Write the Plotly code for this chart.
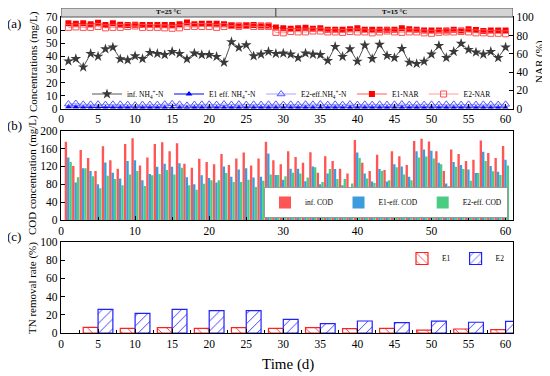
import plotly.graph_objects as go

# ---------------- data ----------------
days = list(range(1, 61))

inf_nh4 = [36.4, 38.2, 31.8, 42.1, 40.0, 45.7, 47.0, 38.0, 37.2, 40.3, 38.2, 42.9, 42.1, 41.3, 43.7,
           42.1, 38.0, 42.4, 41.3, 41.3, 39.8, 35.4, 51.2, 46.8, 48.8, 40.3, 41.6, 43.7, 42.1,
           42.4, 41.6, 39.0, 42.4, 41.6, 41.3, 36.7, 47.5, 39.8, 45.7, 36.2, 48.6, 38.2, 49.1, 40.6,
           39.0, 46.0, 35.4, 34.4, 36.2, 41.6, 48.3, 39.0, 43.7, 49.9, 45.2, 43.2, 41.6, 43.7, 39.0, 47.0]
e1_eff_nh4 = [1.1, 1.0, 0.6, 0.5, 0.6, 0.5, 0.5, 0.6, 0.5, 0.5, 0.5, 0.6, 0.5, 0.5, 0.5,
              0.5, 0.5, 0.6, 0.5, 0.5, 0.5, 0.5, 0.5, 0.6, 0.5, 0.5, 0.5, 0.5, 0.5,
              0.5, 0.5, 0.5, 0.6, 0.5, 0.5, 0.5, 0.5, 0.5, 0.5, 0.5, 0.6, 0.5, 0.5, 0.5,
              0.5, 0.5, 0.5, 0.5, 0.5, 0.5, 0.5, 0.5, 0.5, 0.5, 0.5, 0.5, 0.5, 0.5, 0.5, 0.5]
e2_eff_nh4 = [3.4, 3.8, 3.2, 3.2, 3.3, 3.0, 3.2, 3.2, 3.0, 2.6, 3.0, 3.0, 3.0, 3.3, 3.6,
              3.2, 2.4, 3.0, 3.2, 3.2, 3.0, 3.4, 3.0, 3.3, 3.0, 3.2, 3.0, 3.2, 3.2,
              3.0, 3.2, 3.0, 3.3, 3.2, 3.4, 3.0, 3.2, 3.0, 3.4, 3.0, 3.2, 3.0, 3.2, 3.0,
              3.2, 3.4, 3.0, 3.2, 3.0, 3.2, 3.0, 3.2, 3.2, 3.0, 3.2, 3.0, 3.2, 3.2, 3.0, 3.2]
e1_nar = [93.5, 93, 93.5, 92.5, 94, 91.5, 93.5, 92, 91.5, 92, 91.5, 91.5, 91.5, 91.5, 91.5,
          92.5, 94.5, 92.5, 93, 93, 93, 92.5, 91.5, 91, 91.5, 91.5, 91, 91, 89,
          88, 87.5, 88, 88.5, 87.5, 88, 86.5, 86.5, 86.5, 87, 88, 86.5, 86.5, 86.5, 86.5,
          86.5, 88, 87, 86.5, 85.5, 85.5, 85.5, 85.5, 86.5, 85.5, 87, 86, 85, 85.5, 85.5, 85.5]
e2_nar = [89, 89.5, 89, 89, 90, 88.5, 89, 89, 90, 90.5, 89, 89, 89, 88.5, 88,
          88.5, 90, 90, 90, 90, 89, 90, 91, 90, 91, 90, 90, 90, 83.5,
          83, 84.5, 84, 84, 85, 85, 84, 84, 83.5, 84.5, 84, 84, 83, 84, 85,
          84, 83.5, 84, 84, 83, 82.5, 83.5, 84, 84, 84.5, 84, 83, 83, 82.5, 82.5, 82]

inf_cod = [175, 121, 157, 139, 110, 165, 134, 115, 170, 183, 122, 140, 170, 174, 154,
           172, 126, 117, 137, 130, 125, 148, 123, 138, 151, 122, 138, 175, 134, 125,
           154, 141, 128, 152, 106, 143, 132, 115, 104, 179, 128, 110, 146, 112, 154,
           143, 123, 177, 182, 176, 154, 110, 158, 148, 132, 135, 178, 150, 139, 166]
e1_cod = [140, 84, 116, 110, 80, 129, 106, 93, 132, 134, 89, 103, 119, 126, 119,
          127, 96, 80, 100, 94, 84, 120, 97, 113, 116, 95, 97, 149, 101, 90,
          115, 115, 87, 120, 80, 104, 114, 78, 69, 151, 104, 86, 114, 86, 125,
          120, 97, 154, 158, 155, 128, 82, 130, 123, 113, 105, 153, 121, 108, 135]
e2_cod = [130, 96, 116, 98, 71, 99, 92, 78, 102, 110, 76, 100, 103, 112, 102,
          117, 78, 68, 81, 89, 89, 105, 85, 85, 90, 74, 88, 102, 101, 98,
          106, 104, 95, 118, 85, 114, 92, 92, 82, 139, 93, 83, 110, 89, 118,
          102, 89, 140, 142, 138, 125, 76, 119, 114, 88, 105, 132, 109, 101, 122]

tn_days = [5, 10, 15, 20, 25, 30, 35, 40, 45, 50, 55, 60]
tn_e1 = [6.2, 5.1, 5.9, 5.1, 5.9, 5.1, 5.9, 4.8, 5.1, 3.1, 4.4, 3.8]
tn_e2 = [26.0, 21.6, 26.0, 24.5, 24.5, 15.0, 10.3, 13.2, 11.4, 13.0, 11.8, 12.8]

# ---------------- layout helpers ----------------
# page body has an 8 px margin: figure is drawn at page offset (8, 8)
OFF = 8
W, H = 550 - OFF, 376 - OFF
L, R, T, B = 61, 513, 8, 333          # plot area in page pixels


def px(x):
    return (x - L) / (R - L)


def py(y):
    return (B - y) / (B - T)


FONT = "Liberation Serif"

fig = go.Figure()

# ---- panel (a) ----
fig.add_trace(go.Scatter(x=days, y=inf_nh4, name="inf. NH<sub>4</sub><sup>+</sup>-N",
                         mode="lines+markers", xaxis="x", yaxis="y", legend="legend",
                         line=dict(color="#555555", width=1),
                         marker=dict(symbol="star", size=8, color="#3a3a3a")))
fig.add_trace(go.Scatter(x=days, y=e1_eff_nh4, name="E1 eff. NH<sub>4</sub><sup>+</sup>-N",
                         mode="lines+markers", xaxis="x", yaxis="y", legend="legend",
                         line=dict(color="#0000ff", width=1),
                         marker=dict(symbol="triangle-up", size=6, color="#0000ff")))
fig.add_trace(go.Scatter(x=days, y=e2_eff_nh4, name="E2-eff.NH<sub>4</sub><sup>+</sup>-N",
                         mode="lines+markers", xaxis="x", yaxis="y", legend="legend",
                         line=dict(color="#6a6aff", width=0.6),
                         marker=dict(symbol="triangle-up-open", size=7, color="#5555ff",
                                     line=dict(width=1))))
fig.add_trace(go.Scatter(x=days, y=e1_nar, name="E1-NAR",
                         mode="lines+markers", xaxis="x", yaxis="y2", legend="legend",
                         line=dict(color="#ff3030", width=0.8),
                         marker=dict(symbol="square", size=6, color="#ff0000")))
fig.add_trace(go.Scatter(x=days, y=e2_nar, name="E2-NAR",
                         mode="lines+markers", xaxis="x", yaxis="y2", legend="legend",
                         line=dict(color="#ff8080", width=0.8),
                         marker=dict(symbol="square-open", size=6, color="#ff5050",
                                     line=dict(width=1))))

# ---- panel (b) ----
bw = 0.32
fig.add_trace(go.Bar(x=days, y=inf_cod, name="inf. COD", xaxis="x2", yaxis="y3",
                     legend="legend2", width=bw, offset=-0.5,
                     marker=dict(color="#ff5555", line=dict(width=0))))
fig.add_trace(go.Bar(x=days, y=e1_cod, name="E1-eff. COD", xaxis="x2", yaxis="y3",
                     legend="legend2", width=bw, offset=-0.18,
                     marker=dict(color="#3d9ddc", line=dict(width=0))))
fig.add_trace(go.Bar(x=days, y=e2_cod, name="E2-eff. COD", xaxis="x2", yaxis="y3",
                     legend="legend2", width=bw, offset=0.14,
                     marker=dict(color="#4ccb82", line=dict(width=0))))

# ---- panel (c) ----
fig.add_trace(go.Bar(x=tn_days, y=tn_e1, name="E1", xaxis="x3", yaxis="y4",
                     legend="legend3", width=2, offset=-2,
                     marker=dict(color="white", line=dict(color="#ff2020", width=1.2),
                                 pattern=dict(shape="\\", fgcolor="#ff2020", bgcolor="white",
                                              size=7, solidity=0.12, fillmode="replace"))))
fig.add_trace(go.Bar(x=tn_days, y=tn_e2, name="E2", xaxis="x3", yaxis="y4",
                     legend="legend3", width=2, offset=0,
                     marker=dict(color="white", line=dict(color="#2020ff", width=1.2),
                                 pattern=dict(shape="/", fgcolor="#2020ff", bgcolor="white",
                                              size=7, solidity=0.12, fillmode="replace"))))

axis_common = dict(showline=True, linecolor="black", linewidth=1.3, mirror=True,
                   ticks="inside", ticklen=4, tickwidth=1, tickcolor="black",
                   showgrid=False, zeroline=False, automargin=False,
                   tickfont=dict(family=FONT, size=11.5, color="black"))

ya_dom = [py(108.5), py(17)]
yb_dom = [py(220), py(130.7)]
yc_dom = [py(333), py(242)]

fig.update_layout(
    width=W, height=H,
    margin=dict(l=L - OFF, r=(W + OFF) - R, t=T - OFF, b=(H + OFF) - B),
    paper_bgcolor="white", plot_bgcolor="white",
    font=dict(family=FONT, size=11, color="black"),
    barmode="overlay",
    xaxis=dict(axis_common, domain=[0, 1], anchor="y", range=[0, 61], dtick=5, tick0=0),
    yaxis=dict(axis_common, domain=ya_dom, anchor="x", range=[0, 70.3], dtick=10),
    yaxis2=dict(axis_common, overlaying="y", side="right", anchor="x", range=[0, 100.4], dtick=20),
    xaxis2=dict(axis_common, domain=[0, 1], anchor="y3", range=[0, 61], dtick=10, tick0=0,
                minor=dict(dtick=5, ticks="inside", ticklen=3, tickcolor="black")),
    yaxis3=dict(axis_common, domain=yb_dom, anchor="x2", range=[0, 200], dtick=40),
    xaxis3=dict(axis_common, domain=[0, 1], anchor="y4", range=[0, 61], dtick=5, tick0=0,
                minor=dict(dtick=2.5, ticks="inside", ticklen=3, tickcolor="black")),
    yaxis4=dict(axis_common, domain=yc_dom, anchor="x3", range=[0, 100], dtick=20),
    legend=dict(orientation="h", x=px(496), xanchor="right", y=py(94), yanchor="middle",
                font=dict(family=FONT, size=7.5), bgcolor="rgba(0,0,0,0)", itemwidth=30,
                tracegroupgap=0),
    legend2=dict(orientation="h", x=px(508), xanchor="right", y=py(218), yanchor="bottom",
                 font=dict(family=FONT, size=7.5), bgcolor="white", bordercolor="#999999",
                 borderwidth=1, itemwidth=30),
    legend3=dict(orientation="h", x=px(510), xanchor="right", y=py(244), yanchor="top",
                 font=dict(family=FONT, size=7.5), bgcolor="rgba(0,0,0,0)", itemwidth=30),
    showlegend=True,
)

# header strips
for x0, x1, label in [(0, 29, "T=25 °C"), (29, 61, "T=15 °C")]:
    fig.add_shape(type="rect", xref="x", yref="paper", x0=x0, x1=x1, y0=py(17), y1=py(8),
                  fillcolor="#d4d4d4", line=dict(color="#555555", width=1), layer="above")
    fig.add_annotation(xref="x", yref="paper", x=(x0 + x1) / 2, y=py(12.4),
                       text="<b>" + label + "</b>", showarrow=False, borderpad=0,
                       yanchor="middle", font=dict(family=FONT, size=7, color="black"))

# panel labels & axis titles
ann = [
    dict(x=px(14), y=py(24), text="(a)", size=13, angle=0),
    dict(x=px(14), y=py(125), text="(b)", size=13, angle=0),
    dict(x=px(14), y=py(236), text="(c)", size=13, angle=0),
    dict(x=px(33), y=py(62), text="Concentrations (mg/L)", size=11, angle=-90),
    dict(x=px(539), y=py(62), text="NAR (%)", size=11, angle=-90),
    dict(x=px(32), y=py(175), text="COD concentration (mg/L)", size=11, angle=-90),
    dict(x=px(32), y=py(288), text="TN removal rate (%)", size=11, angle=-90),
    dict(x=px(288), y=py(364), text="Time (d)", size=15, angle=0),
]
for a in ann:
    fig.add_annotation(xref="paper", yref="paper", x=a["x"], y=a["y"], text=a["text"],
                       textangle=a["angle"], showarrow=False, xanchor="center", yanchor="middle",
                       font=dict(family=FONT, size=a["size"], color="black"))

fig.write_html("out.html")
